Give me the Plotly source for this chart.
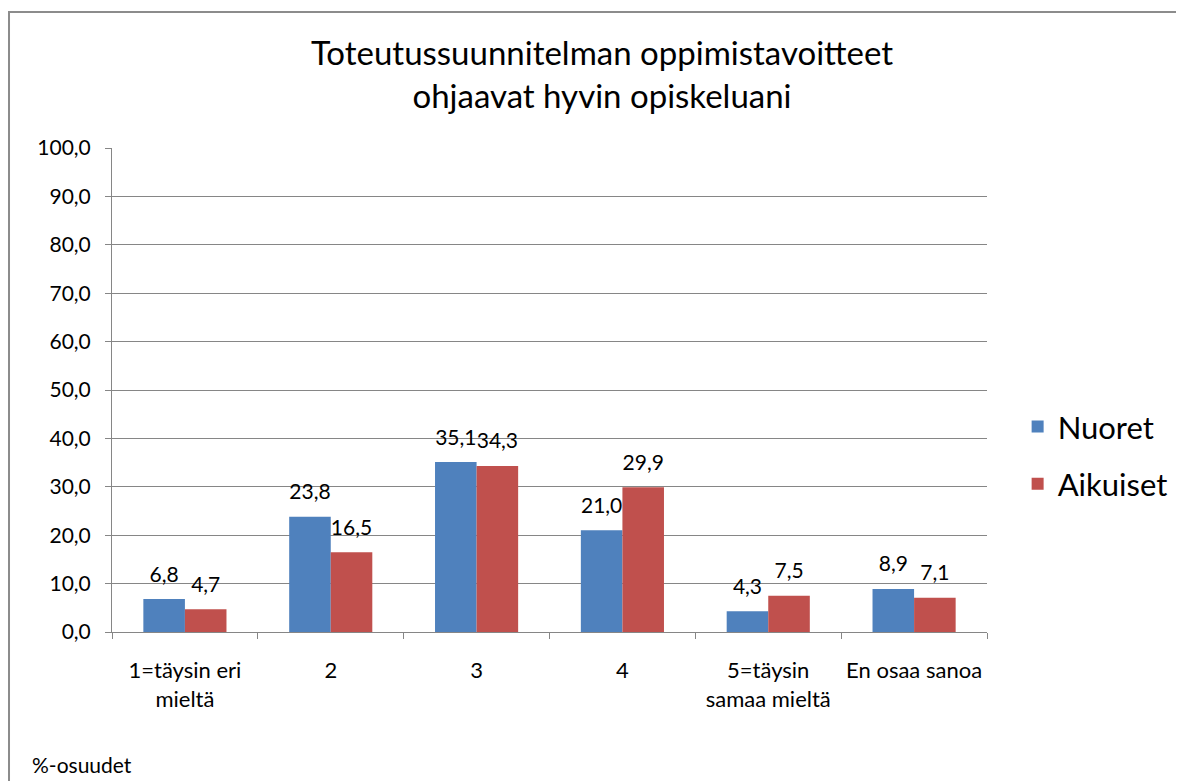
import plotly.graph_objects as go

categories = ["1=täysin eri<br>mieltä", "2", "3", "4", "5=täysin<br>samaa mieltä", "En osaa sanoa"]
nuoret = [6.8, 23.8, 35.1, 21.0, 4.3, 8.9]
aikuiset = [4.7, 16.5, 34.3, 29.9, 7.5, 7.1]
series_names = ["Nuoret", "Aikuiset"]
title_text = "Toteutussuunnitelman oppimistavoitteet<br>ohjaavat hyvin opiskeluani"

FONT = "Lato, Carlito, Calibri, sans-serif"
colors = ["#4F81BD", "#C0504D"]

fig = go.Figure()
for i, (name, vals) in enumerate(zip(series_names, [nuoret, aikuiset])):
    fig.add_trace(go.Bar(
        x=categories, y=vals, name=name,
        marker=dict(color=colors[i], line=dict(width=0)),
        legendgroup=name, offsetgroup=str(i),
    ))
for i, (name, vals) in enumerate(zip(series_names, [nuoret, aikuiset])):
    fig.add_trace(go.Scatter(
        x=categories, y=vals, name=name, mode="markers+text",
        marker=dict(size=18, opacity=0),
        texttemplate="%{y:.1f}", textposition="top center",
        textfont=dict(family=FONT, size=21, color="#000000"),
        cliponaxis=False, showlegend=False, hoverinfo="skip",
        offsetgroup=str(i),
    ))

fig.update_layout(
    width=1184, height=781,
    margin=dict(l=104, r=205, t=140, b=157),
    paper_bgcolor="white", plot_bgcolor="white",
    separators=",.",
    barmode="group", bargap=0.43, bargroupgap=0,
    scattermode="group", scattergap=0.43,
    font=dict(family=FONT, color="#000000"),
    title=dict(text=title_text, x=0.5017, xref="container", xanchor="center",
               y=0.927, yanchor="middle",
               font=dict(family=FONT, size=33, color="#000000")),
    legend=dict(x=1.035, xanchor="left", y=0.365, yanchor="middle",
                font=dict(family=FONT, size=31, color="#000000"),
                tracegroupgap=14, bgcolor="rgba(0,0,0,0)"),
    showlegend=True,
)
fig.update_yaxes(range=[0, 100], dtick=10, tickformat=".1f",
                 showgrid=True, gridcolor="#868686", gridwidth=1,
                 showline=True, linecolor="#868686", linewidth=1,
                 ticks="outside", ticklen=6, tickcolor="#868686",
                 ticklabelstandoff=10,
                 tickfont=dict(family=FONT, size=21, color="#000000"),
                 zeroline=False)
fig.update_xaxes(showline=True, linecolor="#868686", linewidth=1,
                 ticks="outside", ticklen=6, tickcolor="#868686",
                 tickson="boundaries", ticklabelstandoff=19,
                 tickfont=dict(family=FONT, size=22, color="#000000"),
                 showgrid=False)

fig.add_shape(type="rect", xref="paper", yref="paper",
              x0=-0.1177, x1=1.25, y0=-0.35, y1=1.281,
              line=dict(color="#8C8C8C", width=2), fillcolor="rgba(0,0,0,0)", layer="below")
fig.add_annotation(text="%-osuudet", xref="paper", yref="paper",
                   x=-0.0935, y=-0.274, xanchor="left", yanchor="middle",
                   showarrow=False, font=dict(family=FONT, size=21, color="#000000"))

fig.write_html("out.html")
